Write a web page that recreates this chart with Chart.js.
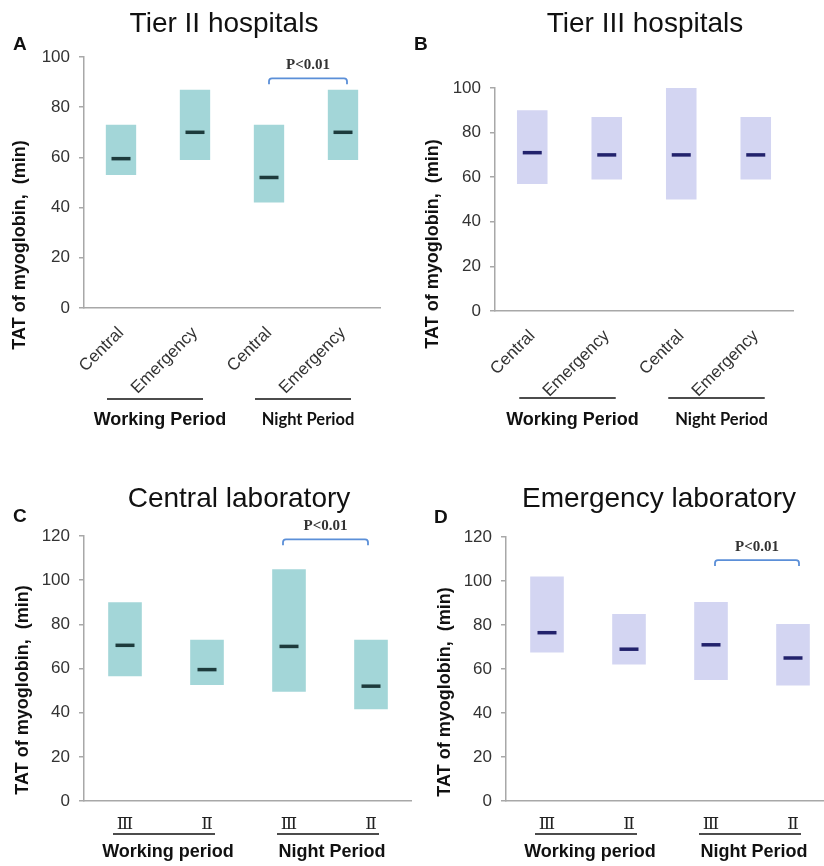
<!DOCTYPE html>
<html>
<head>
<meta charset="utf-8">
<script src="https://cdn.jsdelivr.net/npm/chart.js@4.4.1/dist/chart.umd.min.js"></script>
<style>
  html, body { margin: 0; padding: 0; background: #fff; overflow: hidden; }
  #wrap { position: relative; width: 824px; height: 866px; overflow: hidden; }
  canvas { position: absolute; }
</style>
</head>
<body>
<div id="wrap">
  <canvas id="chartA" width="412" height="433" style="left:0;top:0"></canvas>
  <canvas id="chartB" width="412" height="433" style="left:412px;top:0"></canvas>
  <canvas id="chartC" width="412" height="433" style="left:0;top:433px"></canvas>
  <canvas id="chartD" width="424" height="433" style="left:412px;top:433px"></canvas>
</div>
<script>
// categories
const tierLabels = ["Central", "Emergency", "Central", "Emergency"];
const labLabels = ["Ⅲ", "Ⅱ", "Ⅲ", "Ⅱ"];
const groupsTier = ["Working Period", "Night Period"];
const groupsLab = ["Working period", "Night Period"];

// A: Tier II hospitals
const tier2Low = [53, 59, 42, 59];
const tier2High = [73, 87, 73, 87];
const tier2Median = [59.5, 70, 52, 70];
// B: Tier III hospitals
const tier3Low = [57, 59, 50, 59];
const tier3High = [90, 87, 100, 87];
const tier3Median = [71, 70, 70, 70];
// C: Central laboratory
const centralLow = [56.5, 52.5, 49.5, 41.5];
const centralHigh = [90, 73, 105, 73];
const centralMedian = [70.5, 59.5, 70, 52];
// D: Emergency laboratory
const emergLow = [67.5, 62, 55, 52.5];
const emergHigh = [102, 85, 90.5, 80.5];
const emergMedian = [76.5, 69, 71, 65];

const yTitle = "TAT of myoglobin,  (min)";
const pText = "P<0.01";

const TEAL = "#a3d6d8", TEAL_MED = "#1d3b3c";
const LAV = "#d3d5f2", LAV_MED = "#22226c";
const AXIS = "#a8a8a8";

Chart.defaults.font.family = '"Liberation Sans", Arial, sans-serif';
Chart.defaults.color = "#333";

const panels = {
  chartA: {
    title: "Tier II hospitals", titleX: 224, titleY: 32, letter: "A", letterX: 13, letterY: 50,
    yTitleX: 20, yTitleY: 245, lineY: 399, textY: 420, lineL: -14, lineR: 8, textDx: 5,
    groups: [{text: groupsTier[0], from: 0, to: 1, font: 'bold 18px "Liberation Sans"'},
             {text: groupsTier[1], from: 2, to: 3, font: 'bold 16.5px Lato'}],
    bracket: {from: 2, to: 3, value: 91.5, dxL: 0, dxR: 4}
  },
  chartB: {
    title: "Tier III hospitals", titleX: 233, titleY: 32, letter: "B", letterX: 2, letterY: 50,
    yTitleX: 21, yTitleY: 244, lineY: 398, textY: 420, lineL: -13, lineR: 9, textDx: 5,
    groups: [{text: groupsTier[0], from: 0, to: 1, font: 'bold 18px "Liberation Sans"'},
             {text: groupsTier[1], from: 2, to: 3, font: 'bold 16.5px Lato'}],
    bracket: null
  },
  chartC: {
    title: "Central laboratory", titleX: 239, titleY: 74, letter: "C", letterX: 13, letterY: 89,
    yTitleX: 23, yTitleY: 257, lineY: 401, textY: 419, lineL: -12, lineR: 8, textDx: 4,
    groups: [{text: groupsLab[0], from: 0, to: 1, font: 'bold 18px "Liberation Sans"'},
             {text: groupsLab[1], from: 2, to: 3, font: 'bold 18px "Liberation Sans"'}],
    bracket: {from: 2, to: 3, value: 118.5, dxL: -6, dxR: -3}
  },
  chartD: {
    title: "Emergency laboratory", titleX: 247, titleY: 74, letter: "D", letterX: 22, letterY: 90,
    yTitleX: 33, yTitleY: 259, lineY: 401, textY: 419, lineL: -12, lineR: 8, textDx: 4,
    groups: [{text: groupsLab[0], from: 0, to: 1, font: 'bold 18px "Liberation Sans"'},
             {text: groupsLab[1], from: 2, to: 3, font: 'bold 18px "Liberation Sans"'}],
    bracket: {from: 2, to: 3, value: 109.5, dxL: 4, dxR: 6}
  }
};

// titles, panel letters, y title, group underlines and the significance bracket
const decor = {
  id: "decor",
  afterDraw(chart) {
    const p = panels[chart.canvas.id];
    const ctx = chart.ctx, xs = chart.scales.x, ys = chart.scales.y;
    ctx.save();
    ctx.fillStyle = "#111";
    ctx.font = '28px "Liberation Sans", Arial';
    ctx.textAlign = "center";
    ctx.textBaseline = "alphabetic";
    ctx.fillText(p.title, p.titleX, p.titleY);
    ctx.font = 'bold 19px "Liberation Sans", Arial';
    ctx.textAlign = "left";
    ctx.fillText(p.letter, p.letterX, p.letterY);

    ctx.save();
    ctx.translate(p.yTitleX, p.yTitleY);
    ctx.rotate(-Math.PI / 2);
    ctx.font = 'bold 18px "Liberation Sans", Arial';
    ctx.textAlign = "center";
    ctx.textBaseline = "middle";
    ctx.fillText(yTitle, 0, 0);
    ctx.restore();

    p.groups.forEach(g => {
      const x0 = xs.getPixelForValue(g.from) + p.lineL;
      const x1 = xs.getPixelForValue(g.to) + p.lineR;
      ctx.strokeStyle = "#111";
      ctx.lineWidth = 1.6;
      ctx.beginPath();
      ctx.moveTo(x0, p.lineY);
      ctx.lineTo(x1, p.lineY);
      ctx.stroke();
      ctx.font = g.font;
      ctx.textAlign = "center";
      ctx.textBaseline = "middle";
      ctx.fillText(g.text, (x0 + x1) / 2 + p.textDx, p.textY);
    });

    const b = p.bracket;
    if (b) {
      const bx0 = xs.getPixelForValue(b.from) + b.dxL;
      const bx1 = xs.getPixelForValue(b.to) + b.dxR;
      const by = ys.getPixelForValue(b.value);
      const r = 3, leg = 6;
      ctx.strokeStyle = "#5b8fd8";
      ctx.lineWidth = 1.8;
      ctx.beginPath();
      ctx.moveTo(bx0, by + leg);
      ctx.arcTo(bx0, by, bx0 + r, by, r);
      ctx.arcTo(bx1, by, bx1, by + r, r);
      ctx.lineTo(bx1, by + leg);
      ctx.stroke();
      ctx.fillStyle = "#333";
      ctx.font = 'bold 15px "Liberation Serif", serif';
      ctx.textAlign = "center";
      ctx.textBaseline = "middle";
      ctx.fillText(pText, (bx0 + bx1) / 2, by - 13);
    }
    ctx.restore();
  }
};

function makeChart(id, labels, low, high, median, fill, medColor, yMax, box, xTicks) {
  return new Chart(document.getElementById(id), {
    type: "bar",
    data: {
      labels: labels,
      datasets: [
        {
          type: "line",
          data: median,
          showLine: false,
          pointStyle: "line",
          pointRadius: 9.5,
          pointHoverRadius: 9.5,
          pointBorderWidth: 3.5,
          pointBorderColor: medColor,
          borderColor: medColor,
          order: 0
        },
        {
          data: low.map((v, i) => [v, high[i]]),
          backgroundColor: fill,
          borderWidth: 0,
          barPercentage: 0.41,
          categoryPercentage: 1,
          order: 1
        }
      ]
    },
    options: {
      responsive: false,
      animation: false,
      layout: { autoPadding: false, padding: { top: box.top, right: box.right, left: 0, bottom: 0 } },
      plugins: { legend: { display: false }, tooltip: { enabled: false } },
      scales: {
        x: {
          grid: { display: false, drawTicks: false },
          border: { color: AXIS, width: 1.5 },
          ticks: xTicks,
          afterFit: s => { s.height = box.xh; }
        },
        y: {
          min: 0, max: yMax,
          grid: { drawOnChartArea: false, drawTicks: true, tickLength: 5, color: AXIS, lineWidth: 1.5 },
          border: { color: AXIS, width: 1.5 },
          ticks: { stepSize: 20, padding: 9, color: "#333", font: { size: 17 } },
          afterFit: s => { s.width = box.yw; }
        }
      }
    },
    plugins: [decor]
  });
}

const rotTicks = { maxRotation: 45, minRotation: 45, autoSkip: false, padding: 15, color: "#333", font: { size: 17 } };
const romanTicks = { maxRotation: 0, autoSkip: false, padding: 13, color: "#222", font: { size: 17, family: '"DejaVu Serif", serif' } };

makeChart("chartA", tierLabels, tier2Low, tier2High, tier2Median, TEAL, TEAL_MED, 100,
  { top: 57, right: 32, xh: 125, yw: 84 }, rotTicks);
makeChart("chartB", tierLabels, tier3Low, tier3High, tier3Median, LAV, LAV_MED, 100,
  { top: 88, right: 31, xh: 122, yw: 83 }, rotTicks);
makeChart("chartC", labLabels, centralLow, centralHigh, centralMedian, TEAL, TEAL_MED, 120,
  { top: 103, right: 0, xh: 65, yw: 84 }, romanTicks);
makeChart("chartD", labLabels, emergLow, emergHigh, emergMedian, LAV, LAV_MED, 120,
  { top: 104, right: 2, xh: 65, yw: 94 }, romanTicks);
</script>
</body>
</html>
